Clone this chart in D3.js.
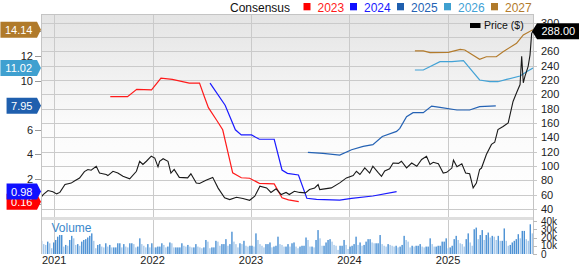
<!DOCTYPE html>
<html><head><meta charset="utf-8">
<script src="https://cdn.jsdelivr.net/npm/d3@7"></script>
<style>
body{margin:0;background:#fff;}
svg{display:block;font-family:"Liberation Sans",Arial,sans-serif;}
</style>
</head><body>
<svg id="chart" width="579" height="264"></svg>
<script>
// ---------------- DATA ----------------
const seriesNames = ["2023","2024","2025","2026","2027"];
const seriesColors = ["#ff1a1a","#1a1aff","#2462b4","#42a2d6","#b37b2c"];
const tagColors   = ["#ff0000","#1010ff","#1f5fae","#3fa0d0","#b07a2a"];

const price = [
["2020-11-13",56],["2020-11-21",60],["2020-12-09",65.6],["2020-12-27",64],["2021-01-10",61],["2021-01-22",63],
["2021-02-10",74],["2021-02-22",75],["2021-03-05",76],["2021-03-17",79],["2021-04-05",83],["2021-04-23",92],
["2021-05-06",95],["2021-05-18",94],["2021-06-06",99.5],["2021-06-18",90],["2021-06-30",89],["2021-07-13",88],
["2021-07-19",86.5],["2021-08-07",92.5],["2021-08-25",90],["2021-09-13",85.5],["2021-10-08",82],["2021-11-02",92.5],
["2021-11-14",106.5],["2021-11-26",102],["2021-12-09",106.5],["2021-12-27",113.5],["2022-01-09",111],["2022-01-21",98.7],
["2022-01-27",106.5],["2022-02-09",110],["2022-02-27",106.5],["2022-03-10",90],["2022-03-22",95],["2022-04-10",84],
["2022-05-11",83.3],["2022-05-23",89],["2022-06-12",76],["2022-06-24",75.4],["2022-07-18",80],["2022-08-12",84],
["2022-09-01",69],["2022-09-25",55.4],["2022-10-14",53],["2022-11-08",56.3],["2022-12-02",54.5],["2022-12-27",52],
["2023-01-15",57.7],["2023-02-03",71.6],["2023-02-28",69.3],["2023-03-16",63],["2023-04-04",68],["2023-04-23",60],
["2023-05-11",63],["2023-05-23",60],["2023-06-11",64.6],["2023-06-30",63],["2023-07-22",62.3],["2023-08-06",67],
["2023-08-25",69.3],["2023-09-07",74],["2023-09-13",67],["2023-10-01",68],["2023-10-26",69.3],["2023-11-26",76.3],
["2023-12-21",83.3],["2024-01-15",86.5],["2024-01-27",92.5],["2024-02-09",88],["2024-02-27",97.3],["2024-03-16",90],
["2024-03-28",99.5],["2024-04-16",91],["2024-04-29",85.5],["2024-05-11",93],["2024-05-29",95.9],["2024-06-11",104],
["2024-07-01",103.5],["2024-07-12",106.5],["2024-07-31",97.3],["2024-08-19",104],["2024-09-07",99.5],["2024-09-25",109],
["2024-10-13",113.5],["2024-10-26",102],["2024-11-07",105],["2024-11-26",103],["2024-12-14",90],["2024-12-27",91],
["2025-01-15",97],["2025-01-21",108],["2025-02-03",98.7],["2025-02-21",103],["2025-03-07",90],["2025-03-22",89],
["2025-04-04",69.3],["2025-04-16",76],["2025-04-28",95],["2025-05-05",97],["2025-05-23",116],["2025-06-11",130],
["2025-06-23",133],["2025-07-05",150.7],["2025-07-24",155],["2025-08-12",160],["2025-08-30",190],["2025-09-12",202],
["2025-09-25",213.5],["2025-10-01",253],["2025-10-07",216],["2025-10-13",225],["2025-10-25",239],["2025-11-01",255],
["2025-11-07",285],["2025-11-12",288]
];

const eps2023 = [
["2021-07-28",8.69],["2021-09-30",8.69],["2021-11-03",9.29],["2021-12-28",9.25],["2022-02-01",10.2],["2022-03-15",10.1],
["2022-05-17",9.8],["2022-06-24",9.8],["2022-07-12",8.69],["2022-07-27",7.8],["2022-08-26",6.8],["2022-09-18",6.0],
["2022-10-25",2.5],["2022-11-26",2.1],["2022-12-27",2.06],["2023-02-01",1.65],["2023-03-28",1.6],["2023-04-26",0.48],
["2023-05-20",0.3],["2023-06-27",0.16]
];
const eps2024 = [
["2022-08-02",9.8],["2022-09-27",8.0],["2022-11-04",6.0],["2022-11-26",5.58],["2023-01-03",5.58],["2023-02-01",5.23],
["2023-03-28",5.23],["2023-04-26",2.73],["2023-05-16",2.46],["2023-06-26",2.33],["2023-07-27",0.43],["2023-09-01",0.35],
["2023-11-26",0.29],["2024-01-09",0.43],["2024-03-28",0.62],["2024-06-24",0.98]
];
const eps2025 = [
["2023-07-31",4.17],["2023-09-25",4.09],["2023-11-26",3.95],["2024-01-09",4.38],["2024-02-21",4.65],["2024-03-28",4.79],
["2024-05-02",5.46],["2024-06-24",5.87],["2024-07-06",6.12],["2024-07-31",7.07],["2024-08-24",7.39],["2024-10-01",7.39],
["2024-11-01",7.93],["2024-12-02",7.83],["2025-02-03",7.61],["2025-03-22",7.61],["2025-04-28",7.88],["2025-06-27",7.95]
];
const eps2026 = [
["2024-08-31",10.86],["2024-10-01",10.86],["2024-12-02",11.54],["2025-01-15",11.54],["2025-02-27",11.62],["2025-04-28",10.05],
["2025-06-05",9.91],["2025-07-05",9.91],["2025-08-06",10.1],["2025-09-25",10.37],["2025-10-19",10.72],["2025-11-12",11.02]
];
const eps2027 = [
["2024-08-31",12.41],["2024-10-01",12.41],["2024-10-26",12.27],["2025-01-02",12.3],["2025-02-15",12.54],["2025-03-04",12.49],
["2025-04-28",11.73],["2025-05-23",11.94],["2025-06-29",11.94],["2025-07-24",12.35],["2025-09-12",13.03],["2025-10-07",13.71],
["2025-11-12",14.14]
];
const epsSeries = [eps2023, eps2024, eps2025, eps2026, eps2027];
const tagValues = [0.16, 0.98, 7.95, 11.02, 14.14];

// weekly volume, thousands
const volume = [
16,12,11,15,13,7,14,17,21,23,23,9,11,10,17,22,19,11,12,10,15,17,18,20,22,25,16,7,11,12,9,8,13,9,11,8,8,8,13,13,8,12,9,8,13,13,12,8,9,19,12,10,8,12,8,13,8,8,9,9,13,11,8,
9,14,13,8,8,8,8,13,10,9,11,9,8,8,12,9,8,7,8,17,15,7,8,8,16,15,10,12,12,18,10,12,27,15,12,8,13,12,16,10,9,10,10,9,25,17,12,10,8,12,12,14,8,9,10,21,12,11,9,9,12,9,13,
14,9,7,9,10,10,20,17,9,9,8,17,29,19,10,10,14,17,18,15,11,10,5,10,10,17,11,6,9,10,12,21,11,14,10,11,15,18,18,14,13,13,13,23,12,10,9,12,11,10,9,10,8,9,11,22,17,15,8,10,9,10,10,
12,9,8,9,9,19,12,9,9,10,10,15,15,19,7,8,10,18,22,17,13,12,9,18,25,14,10,30,32,18,23,29,17,23,26,20,22,21,17,22,16,16,31,16,10,11,14,16,18,24,19,28,28,18,16,36,25
];

const priceTicks = [40,60,80,100,120,140,160,180,200,220,240,260,280,300];
const priceLabels = [40,60,80,100,120,140,160,180,200,220,240,260,300];   // 280 hidden by the price tag
const epsTicks = [0,2,4,6,8,10,12,14];
const epsLabels = [2,4,6,10,12];                                            // 0, 8, 14 hidden by tags
const volTicks = [0,10,20,30,40];
const yearTicks = ["2021-01-01","2022-01-01","2023-01-01","2024-01-01","2025-01-01"];
const lastPrice = 288;

// ---------------- LAYOUT ----------------
const L=41, R=533, T=14, PB=217, VT=220, VB=254;
const parse = d3.timeParse("%Y-%m-%d");
const svg = d3.select("#chart");

const x = d3.scaleTime().domain([parse("2020-11-13"), parse("2025-11-12")]).range([L, R]);
const yP = d3.scaleLinear().domain([40,300]).range([208.9, 22.6]);
const yE = d3.scaleLinear().domain([0,14]).range([203.6, 31.4]);
const yV = d3.scaleLinear().domain([0,40]).range([VB, 221]);
const xb = d3.scaleBand().domain(d3.range(volume.length)).range([L, R]).paddingInner(0.3);

const defs = svg.append("defs");
const grad = defs.append("linearGradient").attr("id","bg").attr("x1",0).attr("y1",0).attr("x2",0).attr("y2",1);
grad.append("stop").attr("offset","0%").attr("stop-color","#e4e4e4");
grad.append("stop").attr("offset","55%").attr("stop-color","#fbfbfb");
grad.append("stop").attr("offset","100%").attr("stop-color","#ffffff");
defs.append("clipPath").attr("id","clipP").append("rect").attr("x",L).attr("y",T).attr("width",R-L).attr("height",PB-T);

svg.append("rect").attr("x",L).attr("y",T).attr("width",R-L).attr("height",PB-T).attr("fill","url(#bg)");

// horizontal grid (price)
svg.append("g").selectAll("line").data(priceTicks).join("line")
  .attr("x1",L).attr("x2",R+4).attr("y1",d=>Math.round(yP(d))+0.5).attr("y2",d=>Math.round(yP(d))+0.5)
  .attr("stroke","#cacaca").attr("stroke-width",1);

// vertical grid (years)
svg.append("g").selectAll("line").data(yearTicks).join("line")
  .attr("x1",d=>Math.round(x(parse(d)))+0.5).attr("x2",d=>Math.round(x(parse(d)))+0.5)
  .attr("y1",T).attr("y2",VB).attr("stroke","#cacaca");

// separator band
svg.append("rect").attr("x",L).attr("y",PB).attr("width",R-L).attr("height",3).attr("fill","#dedede");

// volume bars
svg.append("g").selectAll("rect").data(volume).join("rect")
  .attr("x",(d,i)=>xb(i)).attr("width",xb.bandwidth())
  .attr("y",d=>yV(d)).attr("height",d=>VB-yV(d))
  .attr("fill",(d,i)=> (i>0 && d>=volume[i-1]) ? "#4a90d4" : "#a6c8ea");

svg.append("text").attr("x",51.5).attr("y",232).attr("font-size",12).attr("fill","#3a88cc").text("Volume");

// EPS lines
const gLines = svg.append("g").attr("clip-path","url(#clipP)");
const lineE = d3.line().x(d=>x(parse(d[0]))).y(d=>yE(d[1]));
epsSeries.forEach((s,i)=>{
  gLines.append("path").datum(s).attr("d",lineE).attr("fill","none")
    .attr("stroke",seriesColors[i]).attr("stroke-width",1.2);
});
// price line
const lineP = d3.line().x(d=>x(parse(d[0]))).y(d=>yP(d[1]));
gLines.append("path").datum(price).attr("d",lineP).attr("fill","none")
  .attr("stroke","#1a1a1a").attr("stroke-width",1.1);

// frame
svg.append("line").attr("x1",L+0.5).attr("x2",L+0.5).attr("y1",T).attr("y2",VB).attr("stroke","#c4c4c4");
svg.append("line").attr("x1",R+0.5).attr("x2",R+0.5).attr("y1",T).attr("y2",VB).attr("stroke","#c4c4c4");
svg.append("line").attr("x1",L).attr("x2",R).attr("y1",T+0.5).attr("y2",T+0.5).attr("stroke","#c4c4c4");

// right price axis labels
svg.append("g").selectAll("text").data(priceLabels).join("text")
  .attr("x",541).attr("y",d=>yP(d)+4).attr("font-size",11).attr("fill","#222").text(d=>d);
// right volume axis labels
svg.append("g").selectAll("text").data(volTicks).join("text")
  .attr("x",541).attr("y",d=>yV(d)+3.6).attr("font-size",10).attr("fill","#222").text(d=>d===0?"0":d+"k");
svg.append("g").selectAll("line").data(volTicks).join("line")
  .attr("x1",R).attr("x2",R+4).attr("y1",d=>Math.round(yV(d))+0.5).attr("y2",d=>Math.round(yV(d))+0.5).attr("stroke","#bbb");

// left EPS axis
svg.append("g").selectAll("text").data(epsLabels).join("text")
  .attr("x",33).attr("y",d=>yE(d)+4).attr("text-anchor","end").attr("font-size",11).attr("fill","#222").text(d=>d);
svg.append("g").selectAll("line").data(epsTicks).join("line")
  .attr("x1",35).attr("x2",L).attr("y1",d=>Math.round(yE(d))+0.5).attr("y2",d=>Math.round(yE(d))+0.5).attr("stroke","#999");

// year labels
svg.append("g").selectAll("text").data(yearTicks).join("text")
  .attr("x",d=>x(parse(d))).attr("y",263.5).attr("text-anchor","middle").attr("font-size",11).attr("fill","#222")
  .text(d=>d.slice(0,4));

// left tags
tagValues.forEach((v,i)=>{
  const yc = yE(v);
  const txt = v.toFixed(2);
  const tw = txt.length*6.12 - (txt.includes(".")?3.06:0);
  const x1 = 37, x0 = x1 - tw - 9, h = 16;
  svg.append("path").attr("d",`M${x0},${yc-h/2}H${x1}L${L},${yc}L${x1},${yc+h/2}H${x0}Z`).attr("fill",tagColors[i]);
  svg.append("text").attr("x",(x0+x1)/2).attr("y",yc+4).attr("text-anchor","middle").attr("font-size",11)
    .attr("fill","#fff").text(txt);
});

// right price tag
{
  const yc = yP(lastPrice), h = 16;
  svg.append("path").attr("d",`M${R-1},${yc}L${R+4},${yc-h/2}H579V${yc+h/2}H${R+4}Z`).attr("fill","#000");
  svg.append("text").attr("x",541.5).attr("y",yc+4).attr("font-size",11).attr("fill","#fff").text(lastPrice.toFixed(2));
}

// price legend
svg.append("rect").attr("x",470).attr("y",23).attr("width",10.5).attr("height",5).attr("fill","#000");
svg.append("text").attr("x",484).attr("y",29).attr("font-size",10.5).attr("fill","#111").text("Price ($)");

// consensus legend
svg.append("text").attr("x",230).attr("y",11.5).attr("font-size",12).attr("fill","#111").text("Consensus");
const legX = [303.5,350,397,444,491];
seriesNames.forEach((n,i)=>{
  svg.append("rect").attr("x",legX[i]).attr("y",3).attr("width",7).attr("height",7.3).attr("fill",tagColors[i]);
  svg.append("text").attr("x",legX[i]+14).attr("y",11.5).attr("font-size",12).attr("fill",seriesColors[i]).text(n);
});
</script>
</body></html>
